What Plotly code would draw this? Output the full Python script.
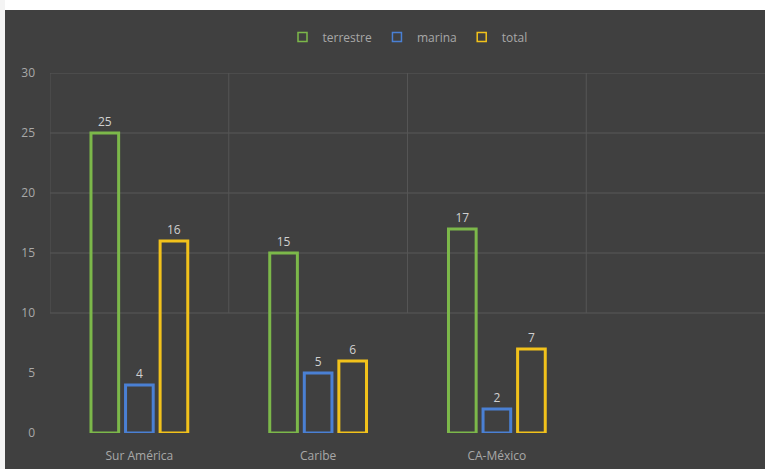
import plotly.graph_objects as go

regiones = ['Sur América', 'Caribe', 'CA-México']
terrestre = [25, 15, 17]
marina = [4, 5, 2]
total = [16, 6, 7]
y_ticks = [0, 5, 10, 15, 20, 25, 30]
grid_levels = [10, 15, 20, 25, 30]
colores = {'terrestre': '#7cb84a', 'marina': '#4a80d4', 'total': '#f2c21b'}

fondo = '#404040'
texto = '#a8a8a8'

fig = go.Figure()
for nombre, valores in [('terrestre', terrestre), ('marina', marina), ('total', total)]:
    fig.add_trace(go.Bar(
        x=regiones,
        y=valores,
        name=nombre,
        text=valores,
        textposition='outside',
        textfont=dict(color='#d0d0d0', size=12),
        cliponaxis=False,
        showlegend=False,
        marker=dict(color='rgba(0,0,0,0)', line=dict(color=colores[nombre], width=3))
    ))
    # legend entry with a small open square
    fig.add_trace(go.Scatter(
        x=[None], y=[None], mode='markers', name=nombre,
        marker=dict(symbol='square-open', size=9, color=colores[nombre], line=dict(width=1.5))
    ))

# gridlines: horizontal across the plot, vertical at category boundaries
shapes = []
for g in grid_levels:
    shapes.append(dict(type='line', xref='paper', yref='y', x0=0, x1=1, y0=g, y1=g,
                       line=dict(color='#595959', width=1), layer='below'))
for b in [-0.5, 0.5, 1.5, 2.5]:
    shapes.append(dict(type='line', xref='x', yref='y', x0=b, x1=b, y0=10, y1=30,
                       line=dict(color='#555555', width=1), layer='below'))
# white border strips of the screenshot
shapes.append(dict(type='rect', xref='paper', yref='paper', x0=-0.08, x1=1.01,
                   y0=1 + 63 / 360, y1=1.25, fillcolor='white', line=dict(width=0)))
shapes.append(dict(type='rect', xref='paper', yref='paper', x0=-0.08, x1=-45 / 715,
                   y0=-0.2, y1=1.25, fillcolor='#f4f4f4', line=dict(width=0)))

fig.update_layout(
    width=765, height=469,
    margin=dict(l=50, r=0, t=73, b=36),
    paper_bgcolor=fondo,
    plot_bgcolor=fondo,
    font=dict(family='Open Sans, sans-serif', size=12, color=texto),
    barmode='group',
    bargap=0.42,
    bargroupgap=0.2,
    shapes=shapes,
    showlegend=True,
    legend=dict(orientation='h', x=0.5, xanchor='center', y=1.1, yanchor='middle',
                font=dict(size=12, color=texto), itemwidth=30, traceorder='normal'),
    xaxis=dict(range=[-0.5, 3.5], showgrid=False, zeroline=False, showline=False,
               tickfont=dict(size=12, color=texto), ticks='', automargin=False,
               ticklabelstandoff=14),
    yaxis=dict(range=[0, 30], tickvals=y_ticks, showgrid=False, zeroline=False,
               showline=False, tickfont=dict(size=12, color=texto), ticklabelstandoff=14,
               automargin=False),
)

fig.write_html('out.html', config={'displayModeBar': False},
               post_script="document.body.style.margin='0';")
